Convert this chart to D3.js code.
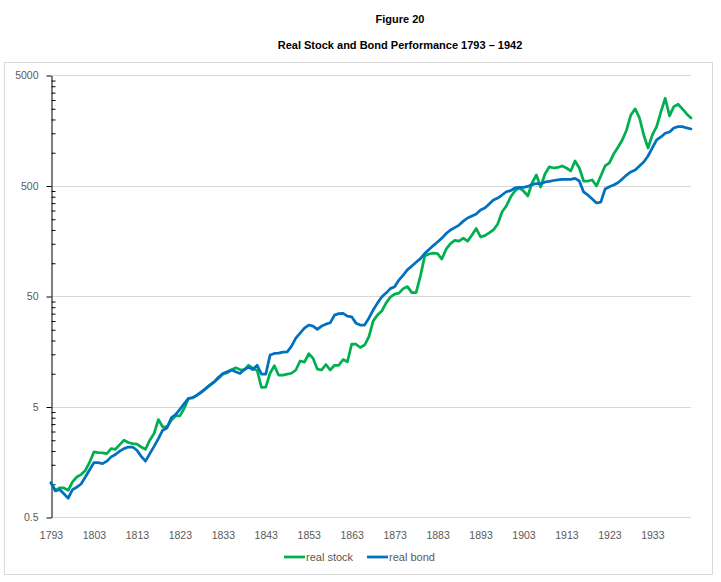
<!DOCTYPE html>
<html>
<head>
<meta charset="utf-8">
<script src="https://cdn.jsdelivr.net/npm/d3@7"></script>
<style>
    body { margin: 0; background: #fff; }
    text { font-family: "Liberation Sans", Arial, sans-serif; }
</style>
</head>
<body>
<script>
const WIDTH = 721;
const HEIGHT = 582;
const PLOT_LEFT = 51;
const PLOT_RIGHT = 691;
const PLOT_TOP = 75;
const PLOT_BOTTOM = 517;

// Categories and axis ticks
const years = d3.range(1793, 1943);
const tickYears = [1793, 1803, 1813, 1823, 1833, 1843, 1853, 1863, 1873, 1883, 1893, 1903, 1913, 1923, 1933];
const yTicks = [0.5, 5, 50, 500, 5000];

// Series values (1793 - 1942)
const realStock = [
    1.02, 0.87, 0.915, 0.915, 0.87, 1.04, 1.15, 1.21, 1.32, 1.57,
    1.94, 1.91, 1.90, 1.875, 2.08, 2.05, 2.26, 2.48, 2.36, 2.31,
    2.28, 2.15, 2.05, 2.48, 2.85, 3.81, 3.27, 3.27, 3.76, 4.11,
    4.11, 4.80, 5.91, 5.98, 6.33, 6.70, 7.25, 7.8, 8.35, 9.0,
    9.8, 10.1, 10.7, 11.2, 10.8, 10.7, 11.8, 11.1, 10.6, 7.43,
    7.5, 10.0, 11.7, 9.6, 9.6, 9.8, 10.0, 10.7, 12.9, 12.6,
    15.0, 13.7, 10.9, 10.7, 12.0, 10.7, 11.8, 11.8, 13.3, 12.7,
    18.3, 18.3, 17.1, 18.0, 21.3, 29.6, 33.6, 36.5, 43.1, 48.9,
    52.0, 53.1, 58.3, 60.8, 53.7, 53.7, 75.7, 115, 120, 122,
    121, 108, 133, 149, 159, 157, 167, 157, 178, 204,
    171, 176, 186, 198, 224, 288, 326, 393, 446, 475,
    446, 402, 527, 622, 485, 636, 736, 720, 728, 751,
    720, 677, 834, 720, 549, 549, 561, 495, 610, 751,
    800, 965, 1108, 1292, 1591, 2176, 2466, 2044, 1433, 1093,
    1433, 1704, 2317, 3082, 2135, 2587, 2720, 2466, 2221, 2044
];
const realBond = [
    1.02, 0.86, 0.885, 0.81, 0.74, 0.885, 0.93, 0.995, 1.15, 1.34,
    1.555, 1.555, 1.52, 1.60, 1.75, 1.84, 1.97, 2.08, 2.15, 2.15,
    2.01, 1.77, 1.60, 1.875, 2.18, 2.56, 3.05, 3.20, 3.94, 4.23,
    4.70, 5.32, 5.91, 6.03, 6.33, 6.78, 7.25, 7.8, 8.35, 9.2,
    9.95, 10.3, 10.7, 10.3, 9.95, 10.8, 11.3, 10.8, 11.8, 9.8,
    9.8, 14.6, 15.1, 15.2, 15.5, 15.6, 17.6, 20.8, 23.1, 25.6,
    27.3, 26.7, 24.9, 26.7, 27.8, 28.6, 33.6, 34.6, 34.8, 32.9,
    32.4, 28.4, 27.3, 27.3, 31.5, 37.3, 43.1, 48.9, 53.1, 58.3,
    60.6, 69.7, 77.3, 86.7, 93.3, 101, 109, 121, 132, 143,
    154, 167, 184, 198, 208, 219, 238, 254, 265, 276,
    300, 313, 340, 370, 385, 410, 439, 450, 475, 480,
    481, 490, 510, 521, 516, 538, 546, 555, 561, 567,
    569, 569, 581, 549, 437, 410, 377, 347, 354, 465,
    488, 505, 530, 573, 622, 663, 691, 751, 817, 925,
    1093, 1292, 1375, 1485, 1526, 1659, 1704, 1704, 1659, 1624
];

const seriesNames = ["real stock", "real bond"];
const seriesColors = ["#00B050", "#0070C0"];
const seriesValues = [realStock, realBond];

const svg = d3.select("body")
    .append("svg")
    .attr("width", WIDTH)
    .attr("height", HEIGHT);

// Titles
svg.append("text")
    .attr("x", 400).attr("y", 23)
    .attr("text-anchor", "middle")
    .attr("font-size", 11).attr("font-weight", "bold")
    .attr("fill", "#000")
    .text("Figure 20");
svg.append("text")
    .attr("x", 400).attr("y", 49)
    .attr("text-anchor", "middle")
    .attr("font-size", 11).attr("font-weight", "bold")
    .attr("fill", "#000")
    .text("Real Stock and Bond Performance 1793 \u2013 1942");

// Chart area border
svg.append("rect")
    .attr("x", 4.5).attr("y", 62.5)
    .attr("width", 708).attr("height", 512)
    .attr("fill", "none")
    .attr("stroke", "#d9d9d9");

const x = d3.scaleLinear()
    .domain([years[0], years[years.length - 1]])
    .range([PLOT_LEFT, PLOT_RIGHT]);

const y = d3.scaleLog()
    .domain([0.5, 5000])
    .range([PLOT_BOTTOM, PLOT_TOP]);

// Horizontal gridlines (the 0.5 line doubles as the category axis)
svg.append("g")
    .selectAll("line")
    .data(yTicks)
    .join("line")
    .attr("x1", PLOT_LEFT).attr("x2", PLOT_RIGHT)
    .attr("y1", d => Math.round(y(d)) + 0.5)
    .attr("y2", d => Math.round(y(d)) + 0.5)
    .attr("stroke", "#d9d9d9");

// Minor ticks on the inside of the value axis
const minorTicks = [];
yTicks.slice(0, -1).forEach(base => {
    for (let m = 2; m <= 9; m++) minorTicks.push(base * m);
});
const minorAxis = svg.append("g")
    .attr("transform", `translate(${PLOT_LEFT + 0.5},0.5)`)
    .call(d3.axisRight(y).tickValues(minorTicks).tickSize(4).tickFormat(""));
minorAxis.select(".domain").remove();
minorAxis.selectAll("line").attr("stroke", "#000");

// Value axis
const yAxis = svg.append("g")
    .attr("transform", `translate(${PLOT_LEFT + 0.5},0.5)`)
    .call(d3.axisLeft(y)
        .tickValues(yTicks)
        .tickFormat(d3.format("~g"))
        .tickSize(5)
        .tickSizeOuter(0)
        .tickPadding(8));
yAxis.select(".domain").attr("stroke", "#000");
yAxis.selectAll("line").attr("stroke", "#000");
yAxis.selectAll("text")
    .attr("fill", "#595959")
    .attr("font-size", 10.5)
    .attr("font-family", "Liberation Sans, Arial, sans-serif");

// Category axis labels
const xAxis = svg.append("g")
    .attr("transform", `translate(0,${PLOT_BOTTOM})`)
    .call(d3.axisBottom(x)
        .tickValues(tickYears)
        .tickFormat(d3.format("d"))
        .tickSize(0)
        .tickPadding(15));
xAxis.select(".domain").remove();
xAxis.selectAll("text")
    .attr("fill", "#595959")
    .attr("font-size", 10.5)
    .attr("font-family", "Liberation Sans, Arial, sans-serif");

// Series lines (bond drawn last so it sits on top)
const line = d3.line()
    .x((d, i) => x(years[i]))
    .y(d => y(d));

svg.append("g")
    .selectAll("path")
    .data(seriesValues)
    .join("path")
    .attr("d", d => line(d))
    .attr("fill", "none")
    .attr("stroke", (d, i) => seriesColors[i])
    .attr("stroke-width", 2.75)
    .attr("stroke-linejoin", "round")
    .attr("stroke-linecap", "round");

// Legend
const legend = svg.append("g")
    .attr("transform", "translate(284,557)");
const legendItem = legend.selectAll("g")
    .data(seriesNames)
    .join("g")
    .attr("transform", (d, i) => `translate(${i * 83},0)`);
legendItem.append("line")
    .attr("x1", 0).attr("x2", 21)
    .attr("stroke", (d, i) => seriesColors[i])
    .attr("stroke-width", 2.75);
legendItem.append("text")
    .attr("x", 22).attr("y", 4)
    .attr("font-size", 11)
    .attr("fill", "#595959")
    .text(d => d);
</script>
</body>
</html>
